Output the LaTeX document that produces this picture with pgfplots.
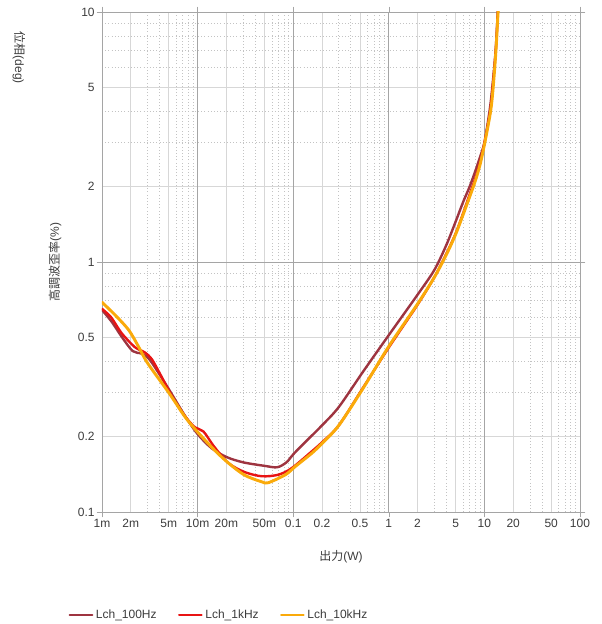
\documentclass[border=0pt]{standalone}
\usepackage{fontspec}
\setmainfont{Liberation Sans}
\newfontfamily\jp{Noto Sans CJK JP}
\usepackage{pgfplots}
\pgfplotsset{compat=1.18}
\definecolor{c100}{RGB}{158,52,64}
\definecolor{c1k}{RGB}{232,20,20}
\definecolor{c10k}{RGB}{250,170,10}
\definecolor{gmaj}{RGB}{165,165,165}
\definecolor{gmid}{RGB}{215,215,215}
\definecolor{gmin}{RGB}{195,195,195}
\definecolor{txt}{RGB}{60,60,60}
\begin{document}
\begin{tikzpicture}[x=1pt,y=1pt]
\path[use as bounding box] (-76.5,-84) rectangle (375,384);
\begin{axis}[
 at={(0,0)}, anchor=south west,
 scale only axis, width=358.5pt, height=375pt,
 xmode=log, ymode=log,
 xmin=1e-3, xmax=100, ymin=0.1, ymax=10,
 axis line style={gmid},
 tick label style={font=\fontsize{9}{10}\selectfont, text=txt},
 xtick={0.001,0.002,0.005,0.01,0.02,0.05,0.1,0.2,0.5,1,2,5,10,20,50,100},
 xticklabels={1m,2m,5m,10m,20m,50m,0.1,0.2,0.5,1,2,5,10,20,50,100},
 ytick={0.1,0.2,0.5,1,2,5,10},
 yticklabels={0.1,0.2,0.5,1,2,5,10},
 minor xtick={0.003,0.004,0.006,0.007,0.008,0.009,0.03,0.04,0.06,0.07,0.08,0.09,0.3,0.4,0.6,0.7,0.8,0.9,3,4,6,7,8,9,30,40,60,70,80,90},
 minor ytick={0.3,0.4,0.6,0.7,0.8,0.9,3,4,6,7,8,9},
 grid=both,
 major grid style={gmid, line width=0.5pt},
 minor grid style={gmin, dotted, line width=0.5pt},
 major tick length=0pt, minor tick length=0pt,
 extra x ticks={0.001,0.01,0.1,1,10,100}, extra x tick labels={},
 extra y ticks={0.1,1,10}, extra y tick labels={},
 extra tick style={grid=major, major grid style={gmaj, line width=0.6pt}, major tick length=4pt, tick align=outside, tick style={gmaj}},
 xticklabel style={yshift=-2pt},
 yticklabel style={xshift=-2pt},
 xlabel={{\jp 出力}(W)},
 xlabel style={at={(axis description cs:0.5,-0.09)}, anchor=center, font=\fontsize{9}{10}\selectfont, text=txt},
 ylabel={{\jp 高調波歪率}(\%)},
 ylabel style={at={(axis description cs:-0.098,0.5)}, anchor=center, font=\fontsize{9}{10}\selectfont, text=txt},
 legend style={at={(axis description cs:0.2455,-0.206)}, anchor=center, draw=none, fill=none, legend columns=3, font=\fontsize{9}{10}\selectfont, text=txt, /tikz/every even column/.append style={column sep=14pt}},
 legend image code/.code={\draw[#1, line width=1.5pt] (0pt,0pt) -- (17pt,0pt);},
 every axis plot/.append style={smooth, tension=0.5, line cap=round, line join=round},
]
\addplot[c100, line width=1.8pt] coordinates {
(0.001,0.643)(0.00127,0.575)(0.00162,0.50)(0.0021,0.44)(0.0026,0.43)(0.0031,0.41)(0.004,0.355)(0.005,0.31)(0.0074,0.242)(0.01,0.205)(0.014,0.18)(0.02,0.166)(0.03,0.158)(0.05,0.153)(0.068,0.151)(0.085,0.158)(0.1,0.17)(0.124,0.185)(0.2,0.222)(0.3,0.263)(0.54,0.365)(1,0.51)(2,0.74)(3,0.93)(4,1.17)(5,1.45)(6,1.74)(7,2.0)(8,2.3)(9,2.63)(10,3.0)(11.3,4.0)(12.1,5.0)(13.1,7.0)(13.8,10)(14.1,11.5)
};
\addlegendentry{Lch\_100Hz}
\addplot[c1k, line width=1.8pt] coordinates {
(0.001,0.65)(0.00125,0.6)(0.0016,0.52)(0.0022,0.457)(0.0028,0.435)(0.0033,0.41)(0.004,0.36)(0.0054,0.29)(0.0075,0.24)(0.0094,0.218)(0.0115,0.21)(0.015,0.182)(0.021,0.157)(0.031,0.1445)(0.047,0.139)(0.07,0.141)(0.097,0.15)(0.157,0.175)(0.2,0.19)(0.3,0.222)(0.54,0.315)(1,0.455)(2,0.675)(3,0.87)(4,1.08)(5,1.3)(6,1.57)(7,1.86)(8,2.15)(9,2.5)(10,3.0)(11.5,4.0)(12.2,5.0)(13.15,7.0)(13.85,10)(14.15,11.5)
};
\addlegendentry{Lch\_1kHz}
\addplot[c10k, line width=2.2pt] coordinates {
(0.001,0.69)(0.00137,0.614)(0.0019,0.535)(0.0024,0.46)(0.003,0.394)(0.005,0.30)(0.0074,0.24)(0.01,0.209)(0.015,0.177)(0.021,0.157)(0.031,0.1405)(0.047,0.132)(0.055,0.131)(0.083,0.141)(0.105,0.152)(0.157,0.172)(0.2,0.188)(0.3,0.222)(0.54,0.313)(1,0.46)(2,0.68)(3,0.87)(4,1.07)(5,1.29)(6,1.55)(7,1.82)(8,2.1)(9,2.45)(10.1,3.0)(11.6,4.0)(12.3,4.9)(13.2,7.0)(13.9,10)(14.2,11.5)
};
\addlegendentry{Lch\_10kHz}
\end{axis}
\node[rotate=-90, anchor=center, font=\fontsize{9}{10}\selectfont, text=txt] at (-62.25,340.5) {{\jp 位相}(deg)};
\end{tikzpicture}
\end{document}
